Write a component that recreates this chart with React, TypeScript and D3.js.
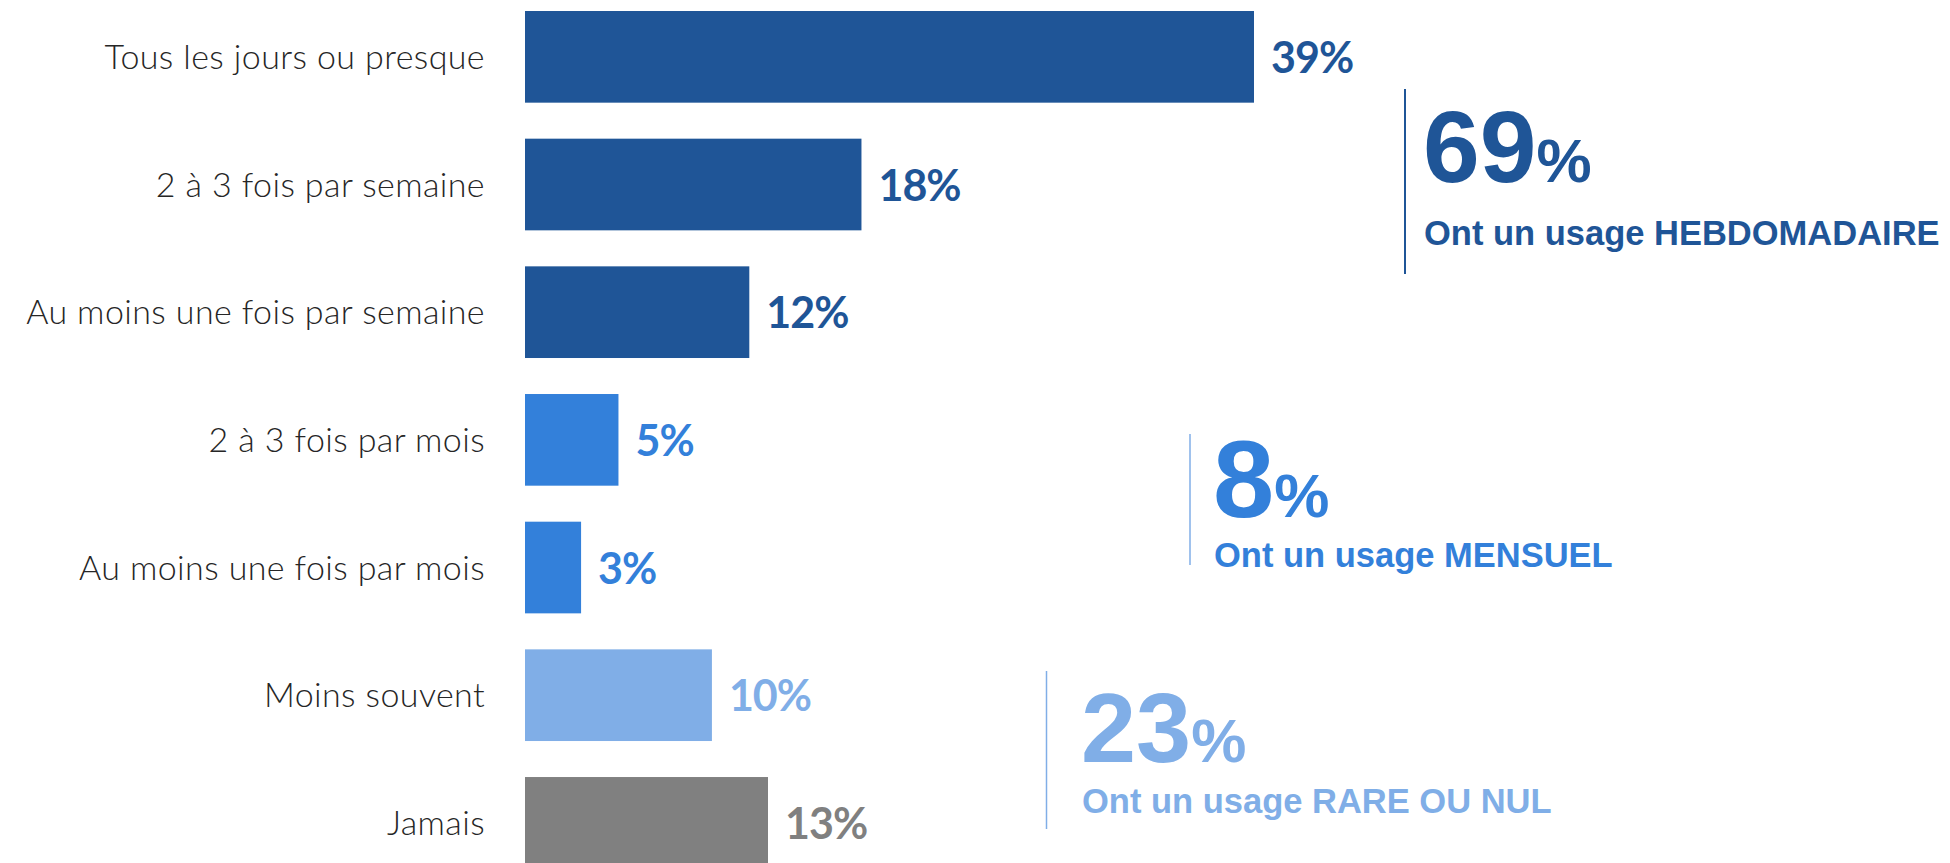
import React from 'react'
import * as d3 from 'd3'

// frequency of use, % of respondents
const categories = [
  'Tous les jours ou presque',
  '2 à 3 fois par semaine',
  'Au moins une fois par semaine',
  '2 à 3 fois par mois',
  'Au moins une fois par mois',
  'Moins souvent',
  'Jamais',
]
const values = [39, 18, 12, 5, 3, 10, 13]
const groups = ['hebdo', 'hebdo', 'hebdo', 'mensuel', 'mensuel', 'rare', 'jamais']

// summary blocks on the right
const summaryValues = [69, 8, 23]
const summaryLabels = ['Ont un usage ', 'Ont un usage ', 'Ont un usage ']
const summaryStrong = ['HEBDOMADAIRE', 'MENSUEL', 'RARE OU NUL']

const W = 1950
const H = 863

const colors: Record<string, string> = {
  hebdo: '#1f5597',
  mensuel: '#3380da',
  rare: '#80aee7',
  jamais: '#808080',
}
const summaryColors = ['#1f5597', '#3380da', '#80aee7']

const App = () => {
  const x0 = 525
  const xScale = d3.scaleLinear().domain([0, 39]).range([x0, 1254])
  const yScale = d3
    .scaleBand<string>()
    .domain(categories)
    .range([11, 868.7])
    .paddingInner(0.282)
    .paddingOuter(0)
  const bw = yScale.bandwidth()

  // layout of the three summary blocks (line x, text x, line top/bottom, baselines)
  const blocks = [
    { lx: 1405, tx: 1423, top: 89, bottom: 274, big: 182, sub: 245, size: 102, lw: 2 },
    { lx: 1190, tx: 1213, top: 434, bottom: 565, big: 517, sub: 567, size: 110, lw: 1.5 },
    { lx: 1046.5, tx: 1081, top: 671, bottom: 829, big: 762, sub: 813, size: 99, lw: 1.5 },
  ]

  return (
    <div style={{ position: 'absolute', left: 0, top: 0 }}>
      <svg width={W} height={H} style={{ display: 'block', background: '#fff' }}>
        <g>
          {categories.map((c, i) => {
            const cy = (yScale(c) as number) + bw / 2
            const col = colors[groups[i]]
            return (
              <g key={c}>
                <text
                  x={485}
                  y={cy + 12}
                  textAnchor="end"
                  fontFamily="Lato, 'Open Sans', sans-serif"
                  fontWeight={300}
                  fontSize={34}
                  letterSpacing={0.4}
                  fill="#262626"
                >
                  {c}
                </text>
                <rect
                  x={x0}
                  y={yScale(c)}
                  width={xScale(values[i]) - x0}
                  height={bw}
                  fill={col}
                />
                <text
                  x={xScale(values[i]) + 17}
                  y={cy + 16}
                  fontFamily="Lato, 'Open Sans', sans-serif"
                  fontWeight={700}
                  fontSize={43}
                  letterSpacing={-1}
                  fill={col}
                >
                  {values[i]}%
                </text>
              </g>
            )
          })}
        </g>
        <g fontFamily="'Liberation Sans', Arial, sans-serif" fontWeight={700}>
          {summaryValues.map((v, i) => {
            const b = blocks[i]
            const col = summaryColors[i]
            return (
              <g key={i}>
                <line
                  x1={b.lx}
                  x2={b.lx}
                  y1={b.top}
                  y2={b.bottom}
                  stroke={i === 0 ? col : '#80aee7'}
                  strokeWidth={b.lw}
                />
                <text x={b.tx} y={b.big} fill={col}>
                  <tspan fontSize={b.size}>{v}</tspan>
                  <tspan fontSize={62}>%</tspan>
                </text>
                <text x={b.tx + 1} y={b.sub} fill={col} fontSize={34.5}>
                  {summaryLabels[i]}
                  {summaryStrong[i]}
                </text>
              </g>
            )
          })}
        </g>
      </svg>
    </div>
  )
}

export default App
